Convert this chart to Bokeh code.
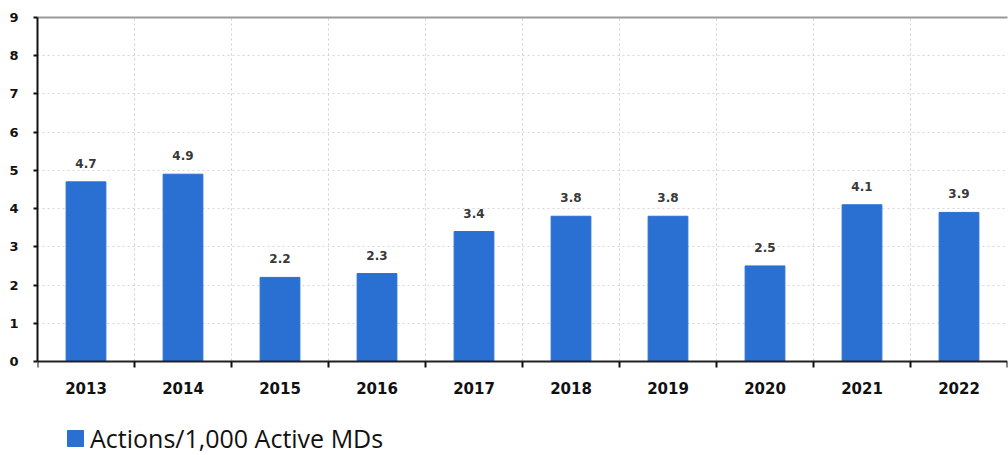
from bokeh.plotting import figure
from bokeh.models import (ColumnDataSource, FixedTicker, CustomJSTickFormatter,
                          Legend, LegendItem, Range1d, LabelSet, LinearAxis, BoxAnnotation)
from bokeh.core.properties import value
from bokeh.embed import file_html
from bokeh.resources import INLINE

years = ["2013", "2014", "2015", "2016", "2017", "2018", "2019", "2020", "2021", "2022"]
values = [4.7, 4.9, 2.2, 2.3, 3.4, 3.8, 3.8, 2.5, 4.1, 3.9]
y_ticks = [0, 1, 2, 3, 4, 5, 6, 7, 8, 9]
series_name = "Actions/1,000 Active MDs"

pos = [i + 0.5 for i in range(len(years))]
src = ColumnDataSource(dict(x=pos, top=values, label=[f"{v:.1f}" for v in values]))

# frame extends below zero to host the legend; axes are bounded to 0..9
p = figure(width=1008, height=455, output_backend="svg", toolbar_location=None,
           x_range=Range1d(0, len(years)), y_range=Range1d(-2.46, 9),
           x_axis_location=None,
           min_border_left=37, min_border_right=1, min_border_top=17, min_border_bottom=0)

# white mask under zero so vertical grid lines stop at the axis
p.add_layout(BoxAnnotation(top=0, fill_color="white", fill_alpha=1, line_color=None,
                           level="underlay"))

r = p.vbar(x="x", top="top", width=0.41, bottom=0, source=src,
           fill_color="#2a6fd2", line_color="#2a6fd2")

labels = LabelSet(x="x", y="top", text="label", source=src, text_align="center",
                  text_baseline="bottom", y_offset=14, text_font=value("DejaVu Sans"),
                  text_font_size="12px", text_font_style="bold", text_color="#383838")
p.add_layout(labels)

# x axis at y=0: labels at category centers, ticks at boundaries
xaxis = LinearAxis(fixed_location=0,
                   ticker=FixedTicker(ticks=pos, minor_ticks=list(range(len(years) + 1))),
                   formatter=CustomJSTickFormatter(args=dict(labels=years),
                                                   code="return labels[Math.floor(tick)];"))
xaxis.major_tick_line_color = None
xaxis.minor_tick_line_color = "#111111"
xaxis.minor_tick_line_width = 2
xaxis.minor_tick_out = 6
xaxis.minor_tick_in = 0
xaxis.axis_line_color = "#222222"
xaxis.axis_line_width = 2
xaxis.major_label_text_font = "DejaVu Sans"
xaxis.major_label_text_font_style = "bold"
xaxis.major_label_text_font_size = "15px"
xaxis.major_label_text_color = "#111111"
xaxis.major_label_standoff = 15
p.add_layout(xaxis, "below")

# thin gray line along the top
top_axis = LinearAxis(ticker=FixedTicker(ticks=[]), major_tick_line_color=None,
                      minor_tick_line_color=None, axis_line_color="#999999",
                      axis_line_width=2)
p.add_layout(top_axis, "above")

p.yaxis.ticker = FixedTicker(ticks=y_ticks)
p.yaxis.bounds = (0, 9)
p.yaxis.minor_tick_line_color = None
p.yaxis.major_tick_out = 4
p.yaxis.major_tick_in = 0
p.yaxis.major_tick_line_width = 2
p.yaxis.major_tick_line_color = "#111111"
p.yaxis.axis_line_color = "#111111"
p.yaxis.axis_line_width = 2
p.yaxis.major_label_text_font = "DejaVu Sans"
p.yaxis.major_label_text_font_style = "bold"
p.yaxis.major_label_text_font_size = "13px"
p.yaxis.major_label_text_color = "#111111"
p.yaxis.major_label_standoff = 15

p.xgrid.ticker = FixedTicker(ticks=list(range(len(years) + 1)))
p.xgrid.grid_line_color = "#cfcfcf"
p.xgrid.grid_line_dash = "2 3"
p.ygrid.ticker = FixedTicker(ticks=y_ticks)
p.ygrid.grid_line_color = "#d6d6d6"
p.ygrid.grid_line_dash = "2 3"

p.outline_line_color = None

legend = Legend(items=[LegendItem(label=series_name, renderers=[r])],
                location=(28, 0), orientation="horizontal",
                label_text_font="Open Sans", label_text_font_size="25px",
                label_text_color="#111111", glyph_width=20, glyph_height=20,
                label_standoff=5, padding=0, margin=0, border_line_color=None,
                background_fill_alpha=0)
p.add_layout(legend)

p.background_fill_color = "white"
p.border_fill_color = "white"

open("out.html", "w").write(file_html(p, INLINE))
